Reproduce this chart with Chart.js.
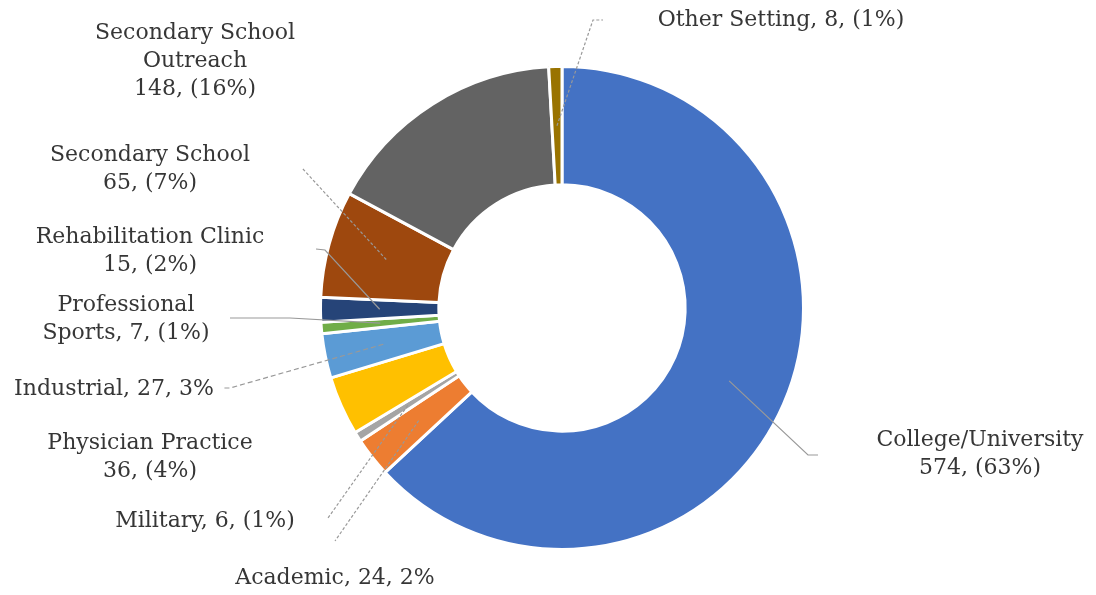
<!DOCTYPE html>
<html><head><meta charset="utf-8">
<script src="https://cdn.jsdelivr.net/npm/chart.js@4/dist/chart.umd.min.js"></script>
<style>html,body{margin:0;padding:0;background:#fff;overflow:hidden;} #wrap{width:1096px;height:595px;position:relative;}</style>
</head><body><div id="wrap"><canvas id="c" width="1096" height="595"></canvas></div>
<script>
const categories = ['College/University','Academic','Military','Physician Practice','Industrial','Professional Sports','Rehabilitation Clinic','Secondary School','Secondary School Outreach','Other Setting'];
const counts = [574, 24, 6, 36, 27, 7, 15, 65, 148, 8];
const colors = ['#4472C4','#ED7D31','#A5A5A5','#FFC000','#5B9BD5','#70AD47','#264478','#9E480E','#636363','#997300'];
const labelLines = [
  ['College/University', '574, (63%)'],
  ['Academic, 24, 2%'],
  ['Military, 6, (1%)'],
  ['Physician Practice', '36, (4%)'],
  ['Industrial, 27, 3%'],
  ['Professional', 'Sports, 7, (1%)'],
  ['Rehabilitation Clinic', '15, (2%)'],
  ['Secondary School', '65, (7%)'],
  ['Secondary School', 'Outreach', '148, (16%)'],
  ['Other Setting, 8, (1%)']
];
// label placement (text centre x, first line y) and leader elbow / stub points
const labelLayout = [
  {x: 980, y: 440, elbow: [808, 455], stub: [818, 455], dash: []},
  {x: 335, y: 578, elbow: [335, 541], stub: null, dash: [3, 2]},
  {x: 205, y: 521, elbow: [328, 518], stub: null, dash: [3, 2]},
  {x: 150, y: 443, elbow: null},
  {x: 114, y: 389, elbow: [230, 388], stub: [222, 388], dash: [5, 3]},
  {x: 126, y: 305, elbow: [290, 318], stub: [230, 318], dash: []},
  {x: 150, y: 237, elbow: [325, 250], stub: [316, 249], dash: []},
  {x: 150, y: 155, elbow: [302, 168], stub: null, dash: [3, 2]},
  {x: 195, y: 33, elbow: null},
  {x: 781, y: 20, elbow: [593, 20], stub: [603, 20], dash: [3, 2]}
];

const labelPlugin = {
  id: 'sliceLabels',
  afterDatasetsDraw(chart) {
    const ctx = chart.ctx;
    const meta = chart.getDatasetMeta(0);
    meta.data.forEach((arc, i) => {
      const L = labelLayout[i];
      const p = arc.getProps(['x', 'y', 'startAngle', 'endAngle', 'innerRadius', 'outerRadius'], true);
      if (L.elbow) {
        const a = (p.startAngle + p.endAngle) / 2;
        const r = (p.innerRadius + p.outerRadius) / 2;
        const sx = p.x + Math.cos(a) * r, sy = p.y + Math.sin(a) * r;
        ctx.save();
        ctx.strokeStyle = '#999999';
        ctx.lineWidth = 1.2;
        ctx.setLineDash(L.dash);
        ctx.beginPath();
        ctx.moveTo(sx, sy);
        ctx.lineTo(L.elbow[0], L.elbow[1]);
        if (L.stub) ctx.lineTo(L.stub[0], L.stub[1]);
        ctx.stroke();
        ctx.restore();
      }
      ctx.save();
      ctx.font = '22px "DejaVu Serif"';
      ctx.fillStyle = '#363636';
      ctx.textAlign = 'center';
      ctx.textBaseline = 'middle';
      labelLines[i].forEach((t, j) => ctx.fillText(t, L.x, L.y + j * 28));
      ctx.restore();
    });
  }
};

new Chart(document.getElementById('c'), {
  type: 'doughnut',
  data: {
    labels: categories,
    datasets: [{
      data: counts,
      backgroundColor: colors,
      borderColor: '#ffffff',
      borderWidth: 3
    }]
  },
  options: {
    responsive: false,
    animation: false,
    cutout: '51%',
    layout: {padding: {top: 65, bottom: 44, left: 28, right: 0}},
    plugins: {legend: {display: false}, tooltip: {enabled: false}}
  },
  plugins: [labelPlugin]
});
</script>
</body></html>
